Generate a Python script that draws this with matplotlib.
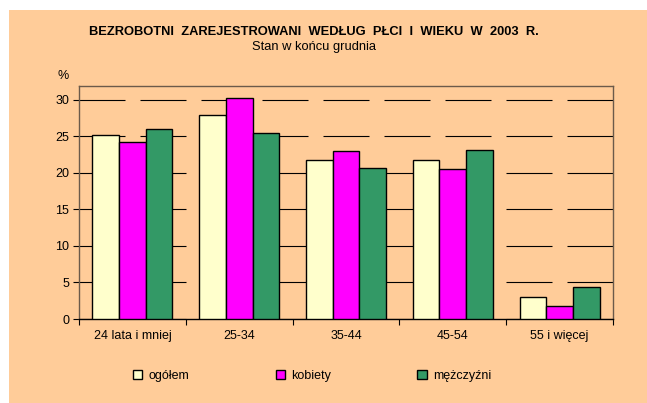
import matplotlib
matplotlib.use("Agg")
import matplotlib.pyplot as plt
from matplotlib.patches import Rectangle, Patch
import numpy as np

categories = ["24 lata i mniej", "25-34", "35-44", "45-54", "55 i więcej"]
ogolem = [25.2, 27.9, 21.8, 21.8, 3.0]
kobiety = [24.3, 30.2, 23.0, 20.5, 1.8]
mezczyzni = [26.0, 25.4, 20.7, 23.2, 4.4]
series_names = ["ogółem", "kobiety", "mężczyźni"]
colors = ["#FFFFCC", "#FF00FF", "#339966"]
yticks = [0, 5, 10, 15, 20, 25, 30]

plt.rcParams['font.family'] = ['Liberation Sans', 'DejaVu Sans']

W, H = 647, 403
fig = plt.figure(figsize=(W / 100, H / 100), dpi=100, facecolor="white")
bg = "#FFCC99"
fig.add_artist(Rectangle((9 / W, 0), 1 - 9 / W, 1 - 10 / H, transform=fig.transFigure,
                         facecolor=bg, edgecolor="none", zorder=-10))

ax = fig.add_axes([79 / W, (H - 319) / H, (613 - 79) / W, (319 - 86) / H])
ax.set_facecolor(bg)

x = np.arange(len(categories))
bw = 0.25
for i, (vals, c, name) in enumerate(zip([ogolem, kobiety, mezczyzni], colors, series_names)):
    ax.bar(x + (i - 1) * bw, vals, width=bw, color=c, edgecolor="black", linewidth=1.0,
           label=name, zorder=3)

ax.set_xlim(-0.5, len(categories) - 0.5)
ax.set_ylim(0, 31.9)
ax.set_yticks(yticks)
ax.tick_params(axis='y', direction='out', length=4, width=0.8, labelsize=9, pad=3)
ax.set_xticks(x)
ax.set_xticklabels(categories)
ax.tick_params(axis='x', which='major', length=0, labelsize=9, pad=8)
ax.set_xticks(np.arange(-0.5, len(categories), 1.0), minor=True)
ax.tick_params(axis='x', which='minor', direction='out', length=4, width=0.8)

ax.yaxis.grid(True, color="black", linewidth=0.8, linestyle=(0, (41.4, 13.5)), zorder=0)
ax.set_axisbelow(True)

for s in ["top", "right", "left"]:
    ax.spines[s].set_color("#6b5a4a")
    ax.spines[s].set_linewidth(1.0)
ax.spines["bottom"].set_color("black")
ax.spines["bottom"].set_linewidth(1.0)

fig.text(63 / W, 1 - 76 / H, "%", ha="center", va="center", fontsize=9)

fig.text(314 / W, 1 - 32 / H, "BEZROBOTNI  ZAREJESTROWANI  WEDŁUG  PŁCI  I  WIEKU  W  2003  R.",
         ha="center", va="center", fontsize=9.3, fontweight="bold")
fig.text(314 / W, 1 - 47 / H, "Stan w końcu grudnia", ha="center", va="center", fontsize=9.3)

handles = [Patch(facecolor=c, edgecolor="black", linewidth=1.0) for c in colors]
fig.legend(handles, series_names, loc="center left", bbox_to_anchor=(133 / W, 1 - 376 / H),
           ncol=3, frameon=False, fontsize=9, handlelength=0.75, handleheight=0.75,
           handletextpad=0.5, columnspacing=6.9, borderaxespad=0, borderpad=0)

fig.savefig("out.png", dpi=100, facecolor="white")
